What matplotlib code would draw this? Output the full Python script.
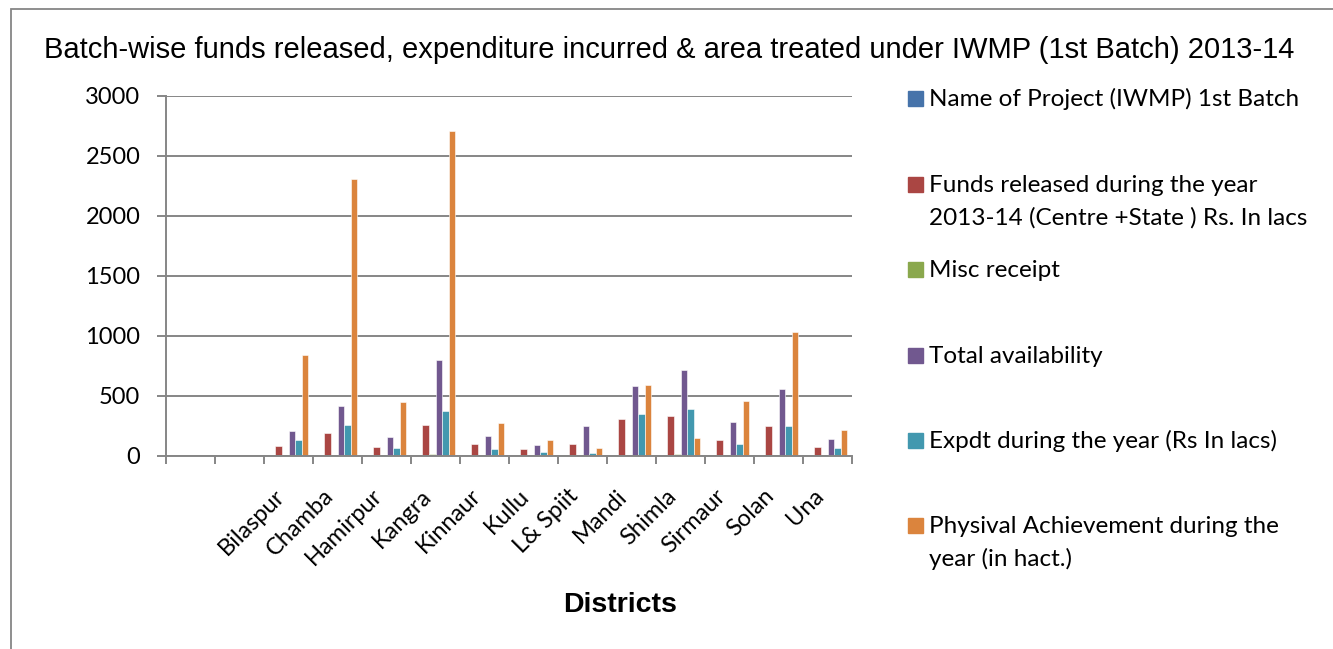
import matplotlib
matplotlib.use('Agg')
import matplotlib.pyplot as plt
from matplotlib.patches import Rectangle
import numpy as np

# districts (first two slots are empty in the source sheet)
districts = ['', '', 'Bilaspur', 'Chamba', 'Hamirpur', 'Kangra', 'Kinnaur', 'Kullu',
             'L& Spiit', 'Mandi', 'Shimla', 'Sirmaur', 'Solan', 'Una']

name_of_project = [0, 0, 0, 0, 0, 0, 0, 0, 0, 0, 0, 0, 0, 0]
funds_released = [0, 0, 80, 194, 75, 256, 97, 56, 97, 311, 331, 131, 247, 72]
misc_receipt = [0, 0, 0, 0, 0, 17, 0, 0, 0, 0, 19, 0, 0, 0]
total_avail = [0, 0, 208, 414, 158, 797, 169, 94, 253, 581, 720, 286, 559, 144]
expdt = [0, 0, 130, 261, 69, 378, 61, 33, 28, 347, 395, 103, 247, 69]
physical = [0, 0, 844, 2311, 453, 2706, 272, 133, 64, 589, 147, 456, 1031, 214]

series = [name_of_project, funds_released, misc_receipt, total_avail, expdt, physical]
legend_labels = ['Name of Project (IWMP) 1st Batch',
                 'Funds released during the year\n2013-14 (Centre +State ) Rs. In lacs',
                 'Misc receipt',
                 'Total availability',
                 'Expdt during the year (Rs In lacs)',
                 'Physival Achievement during the\nyear (in hact.)']
colors = ['#4673AA', '#AA4643', '#8AA84D', '#71588F', '#4298AF', '#DB843D']

W, H = 1333, 649
fig = plt.figure(figsize=(W / 100, H / 100), dpi=100)
grey = '#868686'
calibri = ['Lato', 'DejaVu Sans']

# outer chart border
fig.patches.append(Rectangle((11 / W, -0.05), 1.2, 1 - 9 / H + 0.05, transform=fig.transFigure,
                             fill=False, edgecolor=grey, lw=1.3))

ax = fig.add_axes([166 / W, 1 - 456 / H, (852 - 166) / W, (456 - 96) / H])

x = np.arange(len(districts))
w = 1 / 7.5
for i, vals in enumerate(series):
    ax.bar(x + (i - 2.5) * w, vals, width=w, color=colors[i],
           edgecolor='white', linewidth=0.4, zorder=3)

ax.set_xlim(-0.5, len(districts) - 0.5)
ax.set_ylim(0, 3000)
ax.set_yticks(range(0, 3001, 500))
ax.grid(axis='y', color=grey, lw=1.4, zorder=0)
for s in ['top', 'right']:
    ax.spines[s].set_visible(False)
for s in ['left', 'bottom']:
    ax.spines[s].set_color(grey)
    ax.spines[s].set_linewidth(1.4)
    ax.spines[s].set_zorder(4)

ax.set_xticks(np.arange(-0.5, len(districts), 1))
ax.set_xticklabels([])
ax.set_xticks(x, minor=True)
ax.set_xticklabels(districts, minor=True, rotation=45, ha='right', va='top',
                   family=calibri, fontsize=17)
ax.tick_params(axis='x', which='major', length=6, width=1.4, color=grey, direction='out')
ax.tick_params(axis='x', which='minor', length=0, pad=21)
ax.tick_params(axis='y', length=6.5, width=1.4, color=grey, pad=12, labelsize=17)
for t in ax.get_yticklabels():
    t.set_family(calibri)

fig.text(0.502, 1 - 58 / H, 'Batch-wise funds released, expenditure incurred & area treated under IWMP (1st Batch) 2013-14',
         ha='center', va='baseline', family='Liberation Sans', fontsize=21)
fig.text(620 / W, 1 - 612 / H, 'Districts', ha='center', va='baseline',
         family='Liberation Sans', fontsize=20.5, fontweight='bold')

# legend drawn on the right, one entry per series
baselines = [106, 192, 277, 363, 448, 533]
for i, lab in enumerate(legend_labels):
    b = baselines[i]
    fig.patches.append(Rectangle((908 / W, 1 - b / H), 15 / W, 15 / H,
                                 transform=fig.transFigure, color=colors[i]))
    for j, line in enumerate(lab.split('\n')):
        fig.text(929 / W, 1 - (b + 33 * j) / H, line, ha='left', va='baseline',
                 family=calibri, fontsize=17.5)

fig.savefig('out.png', dpi=100)
